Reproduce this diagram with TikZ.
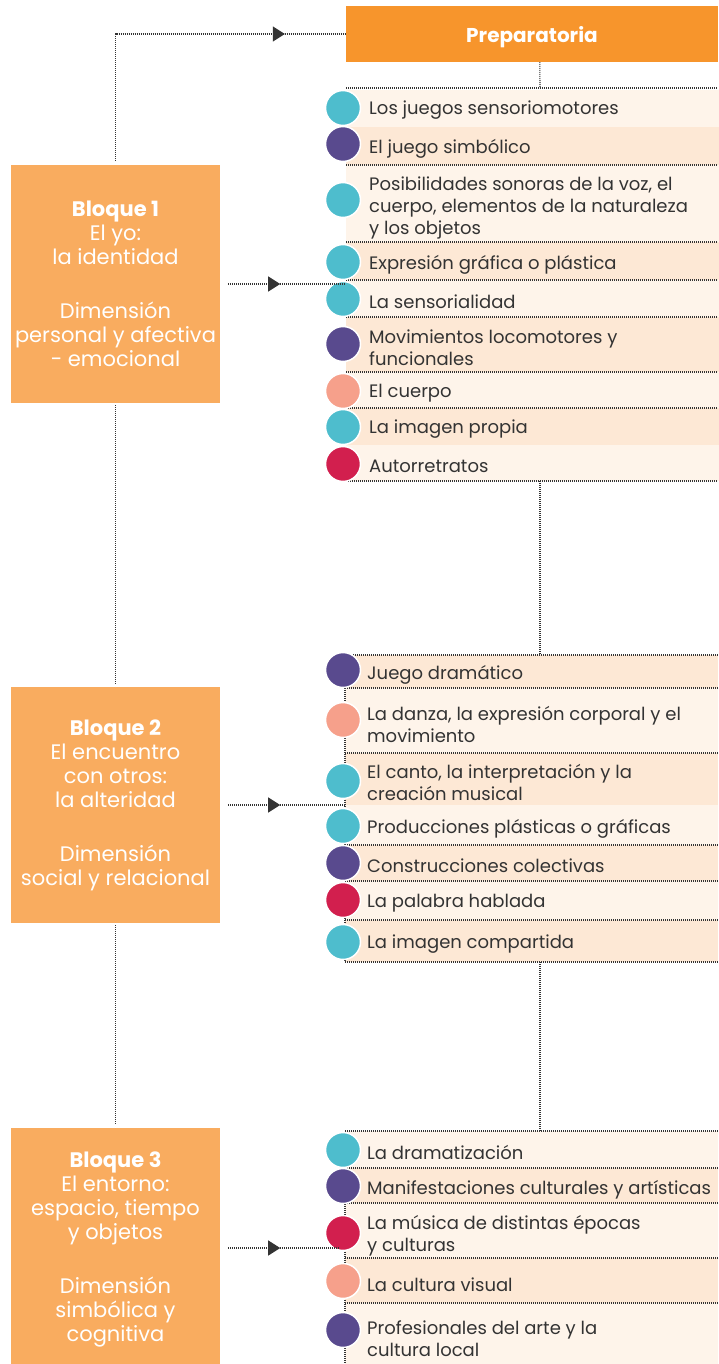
\documentclass[tikz,border=0pt]{standalone}
\usepackage{fontspec}
\setmainfont{Poppins}
\usetikzlibrary{arrows.meta,decorations.markings}
\definecolor{hdrorange}{HTML}{F7952C}
\definecolor{boxorange}{HTML}{F9AC5F}
\definecolor{rowlight}{HTML}{FEF4EA}
\definecolor{rowdark}{HTML}{FDE8D5}
\definecolor{ccyan}{HTML}{4EBDCD}
\definecolor{cpurple}{HTML}{594A8E}
\definecolor{csalmon}{HTML}{F6A08B}
\definecolor{ccrimson}{HTML}{D21F4E}
\definecolor{linec}{HTML}{333333}
\definecolor{txtc}{HTML}{333333}
\begin{document}
\begin{tikzpicture}[x=1pt,y=-1pt,
  dotline/.style={draw=linec, line width=1.1pt, dash pattern=on 1pt off 1pt},
  arrowmid/.style={postaction={decorate}, decoration={markings, mark=at position #1 with {\arrow[linec]{Triangle[length=12pt,width=15pt]}}}},
  hdr/.style={fill=hdrorange, text=white, font=\fontsize{20}{24}\selectfont\bfseries, minimum width=372pt, minimum height=56pt, inner sep=0pt, text depth=0pt},
  bbox/.style={fill=boxorange, text=white, font=\fontsize{21}{24}\selectfont, align=center, minimum width=209pt, inner sep=0pt},
  rowL/.style={fill=rowlight, minimum width=373pt, anchor=north west, inner sep=0pt},
  rowD/.style={fill=rowdark, minimum width=373pt, anchor=north west, inner sep=0pt},
  dot/.style={circle, fill=#1, draw=white, line width=1.5pt, minimum size=35pt, inner sep=0pt},
  item/.style={anchor=west, yshift=-2.5pt, text=txtc, font=\fontsize{18}{22}\selectfont, align=left, inner sep=0pt},
  sep/.style={draw=linec, line width=1.1pt, dash pattern=on 1pt off 1pt}
]
\useasboundingbox (0,0) rectangle (718,1364);

% ---------- header ----------
\node[hdr] (prep) at (532,34) {Preparatoria};

% ---------- blocks ----------
\node[bbox, minimum height=238pt] (b1) at (115.5,284) {\textbf{Bloque 1}\\El yo:\\la identidad\\[30pt]Dimensión\\personal y afectiva\\- emocional};
\node[bbox, minimum height=236pt] (b2) at (115.5,805) {\textbf{Bloque 2}\\El encuentro\\con otros:\\la alteridad\\[30pt]Dimensión\\social y relacional};
\node[bbox, minimum height=242pt] (b3) at (115.5,1249) {\textbf{Bloque 3}\\El entorno:\\espacio, tiempo\\y objetos\\[30pt]Dimensión\\simbólica y\\cognitiva};

% ---------- Preparatoria rows ----------
\node[rowL, minimum height=37pt] (p1) at (346,90) {};
\node[rowD, minimum height=38pt] (p2) at (346,127) {};
\node[rowL, minimum height=77pt] (p3) at (346,165) {};
\node[rowD, minimum height=38pt] (p4) at (346,242) {};
\node[rowL, minimum height=37pt] (p5) at (346,280) {};
\node[rowD, minimum height=55pt] (p6) at (346,317) {};
\node[rowL, minimum height=36pt] (p7) at (346,372) {};
\node[rowD, minimum height=37pt] (p8) at (346,408) {};
\node[rowL, minimum height=36pt] (p9) at (346,445) {};

\foreach \y in {88,165,242,280,317,372,408,481} \draw[sep] (346,\y) -- (718,\y);

\node[item] (tp1) at (369,108) {Los juegos sensoriomotores};
\node[item] (tp2) at (369,146) {El juego simbólico};
\node[item] (tp3) at (369,205) {Posibilidades sonoras de la voz, el\\cuerpo, elementos de la naturaleza\\y los objetos};
\node[item] (tp4) at (369,262) {Expresión gráfica o plástica};
\node[item] (tp5) at (369,299) {La sensorialidad};
\node[item] (tp6) at (369,345) {Movimientos locomotores y\\funcionales};
\node[item] (tp7) at (369,391) {El cuerpo};
\node[item] (tp8) at (369,427) {La imagen propia};
\node[item] (tp9) at (369,464) {Autorretratos};

\node[dot=ccyan] (cp1) at (343,108) {};
\node[dot=cpurple] (cp2) at (343,144) {};
\node[dot=ccyan] (cp3) at (343,200) {};
\node[dot=ccyan] (cp4) at (343,262) {};
\node[dot=ccyan] (cp5) at (343,299) {};
\node[dot=cpurple] (cp6) at (343,344) {};
\node[dot=csalmon] (cp7) at (343,391) {};
\node[dot=ccyan] (cp8) at (343,427) {};
\node[dot=ccrimson] (cp9) at (343,464) {};

% ---------- Bloque 2 rows ----------
\node[rowD, minimum height=33pt] (q1) at (345,655) {};
\node[rowL, minimum height=65pt] (q2) at (345,688) {};
\node[rowD, minimum height=52pt] (q3) at (345,753) {};
\node[rowL, minimum height=40pt] (q4) at (345,805) {};
\node[rowD, minimum height=36pt] (q5) at (345,845) {};
\node[rowL, minimum height=39pt] (q6) at (345,881) {};
\node[rowD, minimum height=42pt] (q7) at (345,920) {};

\foreach \y in {655,688,753,845,881,920,962} \draw[sep] (345,\y) -- (718,\y);
\draw[sep] (345,688) -- (345,962);

\node[item] (tq1) at (367,672) {Juego dramático};
\node[item] (tq2) at (367,722) {La danza, la expresión corporal y el\\movimiento};
\node[item] (tq3) at (367,780) {El canto, la interpretación y la\\creación musical};
\node[item] (tq4) at (367,826) {Producciones plásticas o gráficas};
\node[item] (tq5) at (367,863) {Construcciones colectivas};
\node[item] (tq6) at (367,901) {La palabra hablada};
\node[item] (tq7) at (367,942) {La imagen compartida};

\node[dot=cpurple] (cq1) at (343,670) {};
\node[dot=csalmon] (cq2) at (343,720) {};
\node[dot=ccyan] (cq3) at (343,781) {};
\node[dot=ccyan] (cq4) at (343,826) {};
\node[dot=cpurple] (cq5) at (343,863) {};
\node[dot=ccrimson] (cq6) at (343,900) {};
\node[dot=ccyan] (cq7) at (343,942) {};

% ---------- Bloque 3 rows ----------
\node[rowL, minimum height=37pt] (s1) at (345,1131) {};
\node[rowD, minimum height=35pt] (s2) at (345,1168) {};
\node[rowL, minimum height=55pt] (s3) at (345,1203) {};
\node[rowD, minimum height=45pt] (s4) at (345,1258) {};
\node[rowL, minimum height=67pt] (s5) at (345,1303) {};

\foreach \y in {1131,1168,1203,1258,1303} \draw[sep] (345,\y) -- (718,\y);
\draw[sep] (345,1168) -- (345,1364);

\node[item] (ts1) at (367,1150) {La dramatización};
\node[item] (ts2) at (367,1187) {Manifestaciones culturales y artísticas};
\node[item] (ts3) at (367,1233) {La música de distintas épocas\\y culturas};
\node[item] (ts4) at (367,1282) {La cultura visual};
\node[item] (ts5) at (367,1336) {Profesionales del arte y la\\cultura local};

\node[dot=ccyan] (cs1) at (343,1150) {};
\node[dot=cpurple] (cs2) at (343,1186) {};
\node[dot=ccrimson] (cs3) at (343,1233) {};
\node[dot=csalmon] (cs4) at (343,1281) {};
\node[dot=cpurple] (cs5) at (343,1330) {};

% ---------- connectors ----------
\coordinate (p1top) at (540,88);
\coordinate (p9bot) at (540,481);
\coordinate (q1top) at (540,655);
\coordinate (q7bot) at (540,962);
\coordinate (s1top) at (540,1131);
\coordinate (a1e) at (346,284);
\coordinate (a2e) at (345,805);
\coordinate (a3e) at (340,1248);

\draw[dotline] ([xshift=8pt]prep.south west) ++(186,0) -- (p1top);
\draw[dotline] (p9bot) -- (q1top);
\draw[dotline] (q7bot) -- (s1top);

\draw[dotline, arrowmid=-61pt, shorten <=4pt] (b1.north) |- (prep.west);
\draw[dotline, shorten <=2pt, shorten >=3pt] (b1.south) -- (b2.north);
\draw[dotline, shorten <=2pt, shorten >=3pt] (b2.south) -- (b3.north);

\draw[dotline, arrowmid=52pt] ([xshift=8pt]b1.east) -- (a1e);
\draw[dotline, arrowmid=52pt] ([xshift=8pt]b2.east |- a2e) -- (a2e);
\draw[dotline, arrowmid=52pt] ([xshift=8pt]b3.east |- a3e) -- (a3e);
\end{tikzpicture}
\end{document}
